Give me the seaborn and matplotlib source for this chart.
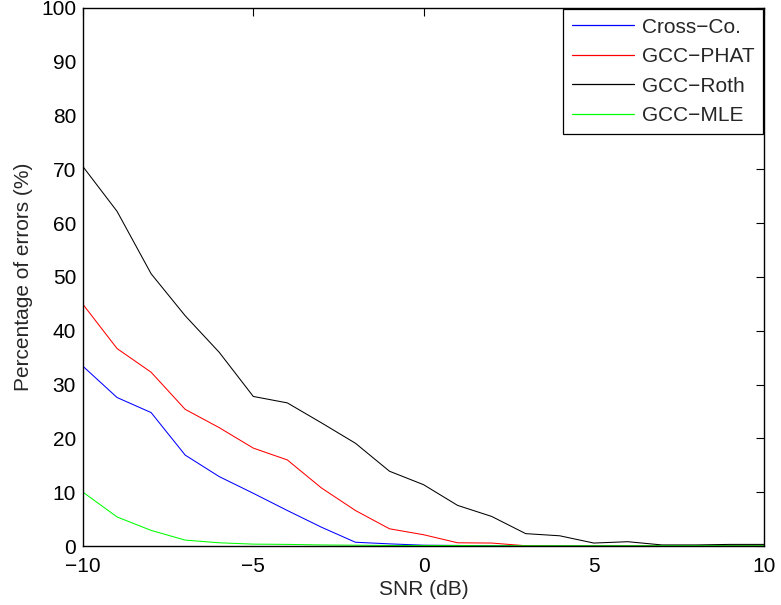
import matplotlib
matplotlib.use("Agg")
import matplotlib.pyplot as plt
import seaborn as sns
import pandas as pd

# SNR sweep (dB)
snr_db = list(range(-10, 11))

# Percentage of wrong delay estimates per method
cross_co = [33.4, 27.6, 24.8, 16.9, 12.9, 9.8, 6.6, 3.5, 0.7, 0.4, 0.15,
            0.1, 0.05, 0.0, 0.0, 0.0, 0.0, 0.0, 0.0, 0.0, 0.0]
gcc_phat = [44.9, 36.7, 32.3, 25.4, 22.0, 18.2, 16.0, 10.8, 6.6, 3.2, 2.1,
            0.6, 0.55, 0.05, 0.0, 0.0, 0.0, 0.0, 0.0, 0.0, 0.0]
gcc_roth = [70.5, 62.2, 50.6, 42.8, 36.0, 27.8, 26.6, 22.9, 19.1, 13.9, 11.4,
            7.55, 5.5, 2.3, 1.9, 0.55, 0.8, 0.2, 0.2, 0.3, 0.3]
gcc_mle = [10.0, 5.4, 2.9, 1.1, 0.6, 0.35, 0.3, 0.2, 0.15, 0.1, 0.1,
           0.1, 0.05, 0.05, 0.05, 0.05, 0.05, 0.05, 0.05, 0.05, 0.05]

methods = ["Cross\u2212Co.", "GCC\u2212PHAT", "GCC\u2212Roth", "GCC\u2212MLE"]
colors = ["#0000ff", "#ff0000", "#000000", "#00ff00"]

frames = []
for name, vals in zip(methods, [cross_co, gcc_phat, gcc_roth, gcc_mle]):
    frames.append(pd.DataFrame({"snr": snr_db, "err": vals, "method": name}))
df = pd.concat(frames, ignore_index=True)

sns.set_style("white")
plt.rcParams["font.family"] = ["Liberation Sans", "DejaVu Sans"]
plt.rcParams["axes.unicode_minus"] = True

fig = plt.figure(figsize=(7.81, 6.05), dpi=100)
ax = fig.add_axes([0.1063, 0.0975, 0.8720, 0.8893])

sns.lineplot(data=df, x="snr", y="err", hue="method", hue_order=methods,
             palette=dict(zip(methods, colors)), linewidth=0.75, ax=ax,
             estimator=None, sort=False)

ax.set_xlim(-10, 10)
ax.set_ylim(0, 100)
ax.set_xticks([-10, -5, 0, 5, 10])
ax.set_yticks(range(0, 101, 10))
ax.set_xlabel("SNR (dB)", fontsize=15, labelpad=3)
ax.set_ylabel("Percentage of errors (%)", fontsize=15, labelpad=6)
ax.tick_params(axis="both", direction="in", length=6, width=0.8,
               labelsize=15, top=True, right=True, colors="black")
ax.tick_params(axis="x", pad=8)
ax.tick_params(axis="y", pad=5)
for sp in ax.spines.values():
    sp.set_visible(True)
    sp.set_color("black")
    sp.set_linewidth(1.0)

leg = ax.legend(loc="upper right", fontsize=15, frameon=True, fancybox=False,
                framealpha=1, edgecolor="black", borderaxespad=0.05,
                handlelength=3.0, handletextpad=0.35, labelspacing=0.5,
                borderpad=0.42)
leg.get_frame().set_linewidth(0.9)
for line in leg.get_lines():
    line.set_linewidth(0.9)

fig.savefig("out.png", dpi=100)
